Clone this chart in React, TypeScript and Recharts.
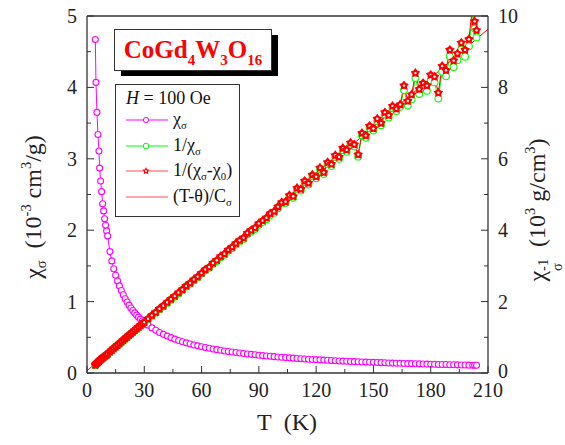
import { ComposedChart, Line, XAxis, YAxis } from 'recharts'

document.body.style.margin = '0'

const SERIF = "'Liberation Serif', 'DejaVu Serif', serif"
const AXIS = '#333'
const MAGENTA = '#ff00ff'
const GREEN = '#00ff00'
const RED = '#ff0000'

// temperature (K)
const temps = [
  4.35, 4.7, 5.2, 5.75, 6.27, 6.6, 7.14, 7.66, 8.19, 8.71, 9.23, 9.76, 10.28, 10.8,
  12, 13, 14, 15, 16, 17, 18, 19, 20, 21, 22, 23, 24, 25, 26, 27, 28, 29, 30,
  32, 34, 36, 38, 40, 42, 44, 46, 48, 50,
  52, 54, 56, 58, 60, 62, 64, 66, 68, 70,
  72, 74, 76, 78, 80, 82, 84, 86, 88, 90,
  92, 94, 96, 98, 100, 102, 104, 106, 108, 110,
  112, 114, 116, 118, 120, 122, 124, 126, 128, 130,
  132, 134, 136, 138, 140, 142, 144, 146, 148, 150,
  152, 154, 156, 158, 160, 162, 164, 166, 168, 170,
  172, 174, 176, 178, 180, 182, 184, 186, 188, 190,
  192, 194, 196, 198, 200, 202, 203, 204,
]

// chi_sigma (10^-3 cm^3/g)
const chiSigma = [
  4.67, 4.07, 3.65, 3.34, 3.11, 2.87, 2.69, 2.54, 2.37, 2.27, 2.16, 2.07, 1.99, 1.92,
  1.7, 1.57, 1.46, 1.37, 1.29, 1.22, 1.155, 1.095, 1.04, 0.995, 0.95, 0.91, 0.875, 0.842, 0.81, 0.782, 0.755, 0.73, 0.708,
  0.67, 0.632, 0.598, 0.568, 0.541, 0.517, 0.495, 0.474, 0.455, 0.438,
  0.422, 0.407, 0.393, 0.38, 0.368, 0.357, 0.346, 0.336, 0.327, 0.318,
  0.309, 0.301, 0.294, 0.287, 0.28, 0.273, 0.267, 0.261, 0.255, 0.249,
  0.244, 0.239, 0.234, 0.229, 0.225, 0.22, 0.216, 0.212, 0.208, 0.204,
  0.2, 0.197, 0.193, 0.19, 0.187, 0.184, 0.181, 0.178, 0.175, 0.172,
  0.169, 0.167, 0.164, 0.162, 0.159, 0.157, 0.155, 0.153, 0.151, 0.149,
  0.147, 0.145, 0.143, 0.141, 0.139, 0.137, 0.136, 0.134, 0.132, 0.131,
  0.129, 0.128, 0.126, 0.125, 0.123, 0.122, 0.12, 0.119, 0.118, 0.116,
  0.115, 0.114, 0.113, 0.112, 0.11, 0.109, 0.1085, 0.108,
]

// 1/chi_sigma (10^3 g/cm^3)
const invChi = [
  0.214, 0.245, 0.274, 0.299, 0.322, 0.348, 0.372, 0.394, 0.422, 0.441, 0.463, 0.483, 0.503, 0.521,
  0.587, 0.636, 0.683, 0.729, 0.774, 0.82, 0.866, 0.911, 0.959, 1.003, 1.05, 1.096, 1.14, 1.185, 1.232, 1.276, 1.321, 1.368, 1.412,
  1.507, 1.601, 1.686, 1.785, 1.87, 1.964, 2.053, 2.138, 2.237, 2.322,
  2.421, 2.5, 2.6, 2.679, 2.778, 2.877, 2.947, 3.056, 3.135, 3.244,
  3.313, 3.422, 3.5, 3.6, 3.688, 3.757, 3.886, 3.965, 4.034, 4.152,
  4.23, 4.31, 4.428, 4.487, 4.615, 4.745, 4.765, 4.945, 4.91, 5.14,
  5.11, 5.34, 5.28, 5.51, 5.455, 5.705, 5.575, 5.855, 5.8, 6.05,
  6.0, 6.245, 6.195, 6.39, 6.345, 6.06, 6.66, 6.59, 6.86, 6.79,
  7.06, 6.94, 7.24, 7.16, 7.42, 7.34, 7.46, 7.925, 7.495, 7.67,
  8.265, 7.815, 7.98, 7.905, 8.2, 8.14, 7.69, 8.44, 8.31, 8.87,
  8.57, 8.76, 9.06, 8.86, 9.15, 10.1, 9.65, 9.4,
]

// 1/(chi_sigma - chi_0) (10^3 g/cm^3)
const invChiCorr = [
  0.22, 0.25, 0.28, 0.305, 0.33, 0.355, 0.38, 0.4, 0.43, 0.45, 0.47, 0.49, 0.51, 0.53,
  0.595, 0.643, 0.69, 0.737, 0.782, 0.828, 0.874, 0.92, 0.968, 1.012, 1.06, 1.106, 1.15, 1.196, 1.243, 1.287, 1.333, 1.38, 1.425,
  1.52, 1.615, 1.7, 1.8, 1.885, 1.98, 2.07, 2.155, 2.255, 2.34,
  2.44, 2.52, 2.62, 2.7, 2.8, 2.9, 2.97, 3.08, 3.16, 3.27,
  3.34, 3.45, 3.53, 3.63, 3.72, 3.79, 3.92, 4.0, 4.07, 4.19,
  4.27, 4.35, 4.47, 4.53, 4.66, 4.78, 4.8, 4.98, 4.95, 5.18,
  5.15, 5.38, 5.32, 5.55, 5.5, 5.75, 5.62, 5.9, 5.85, 6.1,
  6.05, 6.3, 6.25, 6.45, 6.4, 6.12, 6.72, 6.65, 6.92, 6.85,
  7.12, 7.0, 7.3, 7.22, 7.48, 7.4, 7.52, 8.05, 7.62, 7.8,
  8.4, 7.95, 8.12, 8.05, 8.35, 8.3, 7.85, 8.6, 8.48, 9.05,
  8.75, 8.95, 9.25, 9.05, 9.35, 10.3, 9.85, 9.6,
]

// Curie-Weiss fit (T - theta)/C
const fitT = [0, 210]
const fitInv = [0.064, 9.63]

const xTicks = [0, 15, 30, 45, 60, 75, 90, 105, 120, 135, 150, 165, 180, 195, 210]
const leftTicks = [0, 0.5, 1, 1.5, 2, 2.5, 3, 3.5, 4, 4.5, 5]
const rightTicks = [0, 1, 2, 3, 4, 5, 6, 7, 8, 9, 10]

const chiData = temps.map((t, i) => ({ t, v: chiSigma[i] }))
const invData = temps.map((t, i) => ({ t, v: invChi[i] }))
const corrData = temps.map((t, i) => ({ t, v: invChiCorr[i] }))
const fitData = fitT.map((t, i) => ({ t, v: fitInv[i] }))

const starPath = (cx: number, cy: number, R: number, r: number) => {
  let d = ''
  for (let i = 0; i < 10; i++) {
    const a = -Math.PI / 2 + (i * Math.PI) / 5
    const rad = i % 2 === 0 ? R : r
    d += (i ? 'L' : 'M') + (cx + rad * Math.cos(a)).toFixed(2) + ',' + (cy + rad * Math.sin(a)).toFixed(2)
  }
  return d + 'Z'
}

const MagentaDot = (p: any) => (
  <circle key={p.index} cx={p.cx} cy={p.cy} r={3} fill="#fff" stroke={MAGENTA} strokeWidth={1.1} />
)
const GreenDot = (p: any) => (
  <circle key={p.index} cx={p.cx} cy={p.cy} r={3.4} fill="#fff" stroke={GREEN} strokeWidth={1.1} />
)
const RedDot = (p: any) => (
  <g key={p.index}>
    <path d={starPath(p.cx, p.cy, 5, 3.2)} fill={RED} />
    <circle cx={p.cx} cy={p.cy} r={1.2} fill="#fff" />
  </g>
)

const tickText = { fontFamily: SERIF, fontSize: 20, fill: '#222' }

const BottomTick = (p: any) => {
  const major = p.payload.value % 30 === 0
  return (
    <g>
      <line x1={p.x} y1={p.y} x2={p.x} y2={p.y - (major ? 7 : 4)} stroke={AXIS} />
      {major && (
        <text x={p.x} y={p.y + 24} textAnchor="middle" {...tickText}>
          {p.payload.value}
        </text>
      )}
    </g>
  )
}

const TopTick = (p: any) => {
  const major = p.payload.value % 30 === 0
  return <line x1={p.x} y1={p.y} x2={p.x} y2={p.y + (major ? 7 : 4)} stroke={AXIS} />
}

const LeftTick = (p: any) => {
  const major = Number.isInteger(p.payload.value)
  return (
    <g>
      <line x1={p.x} y1={p.y} x2={p.x + (major ? 7 : 4)} y2={p.y} stroke={AXIS} />
      {major && (
        <text x={p.x - 10} y={p.y + 7} textAnchor="end" {...tickText}>
          {p.payload.value}
        </text>
      )}
    </g>
  )
}

const RightTick = (p: any) => {
  const major = p.payload.value % 2 === 0
  return (
    <g>
      <line x1={p.x} y1={p.y} x2={p.x - (major ? 7 : 4)} y2={p.y} stroke={AXIS} />
      {major && (
        <text x={p.x + 10} y={p.y + (p.payload.value === 0 ? 5 : 7)} textAnchor="start" {...tickText}>
          {p.payload.value}
        </text>
      )}
    </g>
  )
}

const sub = { fontSize: '0.6em', verticalAlign: '-0.35em' }
const sup = { fontSize: '0.6em', verticalAlign: '0.7em' }

const LegendRow = ({ top, kind, children }: any) => (
  <div style={{ position: 'absolute', left: 9, top, height: 22, display: 'flex', alignItems: 'center' }}>
    <svg width={44} height={12} style={{ marginRight: 4 }}>
      {kind === 'chi' && (
        <>
          <line x1={1} y1={6} x2={43} y2={6} stroke={MAGENTA} />
          <circle cx={21} cy={6} r={2.6} fill="#fff" stroke={MAGENTA} />
        </>
      )}
      {kind === 'inv' && (
        <>
          <line x1={1} y1={6} x2={43} y2={6} stroke={GREEN} />
          <circle cx={21} cy={6} r={2.8} fill="#fff" stroke={GREEN} />
        </>
      )}
      {kind === 'corr' && (
        <>
          <line x1={1} y1={6} x2={43} y2={6} stroke={RED} strokeOpacity={0.7} />
          <path d={starPath(21, 6, 4, 2)} fill={RED} />
          <circle cx={21} cy={6} r={1} fill="#fff" />
        </>
      )}
      {kind === 'fit' && <line x1={1} y1={6} x2={43} y2={6} stroke={RED} strokeOpacity={0.7} />}
    </svg>
    <span style={{ whiteSpace: 'nowrap' }}>{children}</span>
  </div>
)

const axisCommon = {
  tickSize: 0,
  tickMargin: 0,
  tickLine: false,
  interval: 0 as const,
  axisLine: { stroke: AXIS, strokeWidth: 1.3 },
}

export default function App() {
  return (
    <div style={{ position: 'relative', width: 565, height: 445, background: '#fff', fontFamily: SERIF }}>
      <ComposedChart width={565} height={445} margin={{ top: 6, right: 37, bottom: 42, left: 47 }}>
        <XAxis
          xAxisId="b"
          dataKey="t"
          type="number"
          domain={[0, 210]}
          ticks={xTicks}
          height={30}
          tick={<BottomTick />}
          {...axisCommon}
        />
        <XAxis
          xAxisId="t"
          orientation="top"
          dataKey="t"
          type="number"
          domain={[0, 210]}
          ticks={xTicks}
          height={10}
          tick={<TopTick />}
          {...axisCommon}
        />
        <YAxis
          yAxisId="l"
          type="number"
          domain={[0, 5]}
          ticks={leftTicks}
          width={40}
          tick={<LeftTick />}
          {...axisCommon}
        />
        <YAxis
          yAxisId="r"
          orientation="right"
          type="number"
          domain={[0, 10]}
          allowDataOverflow
          ticks={rightTicks}
          width={40}
          tick={<RightTick />}
          {...axisCommon}
        />
        <Line
          data={chiData}
          xAxisId="b"
          yAxisId="l"
          dataKey="v"
          stroke={MAGENTA}
          strokeWidth={1}
          dot={MagentaDot}
          activeDot={false}
          isAnimationActive={false}
        />
        <Line
          data={invData}
          xAxisId="b"
          yAxisId="r"
          dataKey="v"
          stroke={GREEN}
          strokeWidth={1}
          dot={GreenDot}
          activeDot={false}
          isAnimationActive={false}
        />
        <Line
          data={corrData}
          xAxisId="b"
          yAxisId="r"
          dataKey="v"
          stroke={RED}
          strokeWidth={1}
          dot={RedDot}
          activeDot={false}
          isAnimationActive={false}
        />
        <Line
          data={fitData}
          xAxisId="b"
          yAxisId="r"
          dataKey="v"
          stroke={RED}
          strokeWidth={1}
          dot={false}
          activeDot={false}
          isAnimationActive={false}
        />
      </ComposedChart>

      {/* compound title box */}
      <div style={{ position: 'absolute', left: 121, top: 35, width: 157, height: 41, background: '#000' }} />
      <div
        style={{
          position: 'absolute',
          left: 114,
          top: 29,
          width: 156,
          height: 40,
          background: '#fff',
          border: '1px solid #333',
          color: RED,
          fontWeight: 'bold',
          fontSize: 25,
          lineHeight: '40px',
          textAlign: 'center',
          whiteSpace: 'nowrap',
        }}
      >
        CoGd<span style={{ fontSize: 15, verticalAlign: '-0.45em' }}>4</span>W
        <span style={{ fontSize: 15, verticalAlign: '-0.45em' }}>3</span>O
        <span style={{ fontSize: 15, verticalAlign: '-0.45em' }}>16</span>
      </div>

      {/* legend */}
      <div
        style={{
          position: 'absolute',
          left: 115,
          top: 84,
          width: 123,
          height: 131,
          background: '#fff',
          border: '1px solid #333',
          fontSize: 18,
          color: '#111',
        }}
      >
        <div style={{ position: 'absolute', left: 10, top: 3, whiteSpace: 'nowrap' }}>
          <i>H</i> = 100 Oe
        </div>
        <LegendRow top={24} kind="chi">
          χ<span style={sub}>σ</span>
        </LegendRow>
        <LegendRow top={50} kind="inv">
          1/χ<span style={sub}>σ</span>
        </LegendRow>
        <LegendRow top={75} kind="corr">
          1/(χ<span style={sub}>σ</span>-χ<span style={sub}>0</span>)
        </LegendRow>
        <LegendRow top={101} kind="fit">
          (T-θ)/C<span style={sub}>σ</span>
        </LegendRow>
      </div>

      {/* axis titles */}
      <div
        style={{
          position: 'absolute',
          left: 34,
          top: 207,
          transform: 'translate(-50%, -50%) rotate(-90deg)',
          whiteSpace: 'nowrap',
          fontSize: 24,
          color: '#222',
        }}
      >
        χ<span style={sub}>σ</span>&nbsp;&nbsp;(10<span style={sup}>-3</span> cm<span style={sup}>3</span>/g)
      </div>
      <div
        style={{
          position: 'absolute',
          left: 543,
          top: 210,
          transform: 'translate(-50%, -50%) rotate(-90deg)',
          whiteSpace: 'nowrap',
          fontSize: 24,
          color: '#222',
        }}
      >
        χ
        <span style={{ display: 'inline-flex', flexDirection: 'column', fontSize: '0.6em', lineHeight: 1, verticalAlign: '-0.2em' }}>
          <span>-1</span>
          <span>σ</span>
        </span>
        &nbsp;&nbsp;(10<span style={sup}>3</span> g/cm<span style={sup}>3</span>)
      </div>
      <div
        style={{
          position: 'absolute',
          left: 287,
          top: 422,
          transform: 'translate(-50%, -50%)',
          whiteSpace: 'nowrap',
          fontSize: 24,
          color: '#222',
        }}
      >
        T&nbsp;&nbsp;(K)
      </div>
    </div>
  )
}
